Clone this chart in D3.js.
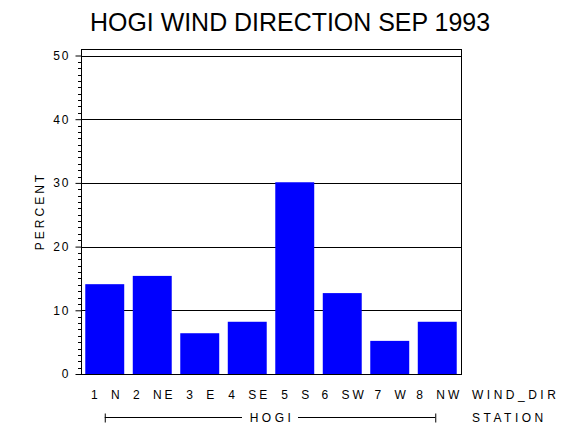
<!DOCTYPE html>
<html>
<head>
<meta charset="utf-8">
<script src="https://cdn.jsdelivr.net/npm/d3@7"></script>
<style>
  body { margin: 0; background: #fff; }
  text { font-family: "Liberation Sans", Arial, sans-serif; fill: #000; }
</style>
</head>
<body>
<svg id="chart" width="570" height="430"></svg>
<script>
const categories = ['1 N', '2 NE', '3 E', '4 SE', '5 S', '6 SW', '7 W', '8 NW']
const percent = [14.1, 15.4, 6.4, 8.2, 30.1, 12.7, 5.2, 8.2]
const yTicks = [0, 10, 20, 30, 40, 50]
const stationLabel = 'HOGI'

const svg = d3.select('#chart')
const plotL = 81, plotR = 461, plotT = 49, plotB = 374

const x = d3.scaleBand()
  .domain(categories)
  .range([plotL, plotR])
  .paddingInner(0.18)
  .paddingOuter(0.09)

const y = d3.scaleLinear()
  .domain([0, 50])
  .range([plotB, 55.5])

// title
svg.append('text')
  .attr('x', 90).attr('y', 31)
  .attr('textLength', 400).attr('lengthAdjust', 'spacingAndGlyphs')
  .style('font-size', '25px')
  .text('HOGI WIND DIRECTION SEP 1993')

// frame
svg.append('rect')
  .attr('x', plotL + 0.5).attr('y', plotT + 0.5)
  .attr('width', plotR - plotL).attr('height', plotB - plotT)
  .style('fill', 'none').style('stroke', '#000').style('stroke-width', 1)

// grid lines
svg.append('g').selectAll('line')
  .data(yTicks.filter(d => d > 0))
  .enter().append('line')
    .attr('x1', plotL).attr('x2', plotR)
    .attr('y1', d => Math.round(y(d)) + 0.5).attr('y2', d => Math.round(y(d)) + 0.5)
    .style('stroke', '#000').style('stroke-width', 1.2)

// bars
svg.append('g').selectAll('rect')
  .data(percent)
  .enter().append('rect')
    .attr('x', (d, i) => x(categories[i]))
    .attr('y', d => y(d))
    .attr('width', x.bandwidth())
    .attr('height', d => y(0) - y(d))
    .style('fill', '#0000ff')

// y axis
const yAxis = d3.axisLeft(y)
  .tickValues(yTicks)
  .tickSize(6)
  .tickPadding(5)
  .tickFormat(d3.format('d'))
const gy = svg.append('g')
  .attr('transform', 'translate(' + (plotL + 0.5) + ',0)')
  .call(yAxis)
gy.select('.domain').remove()
gy.selectAll('line').style('stroke', '#000')
gy.selectAll('text')
  .style('font-size', '12px')
  .style('letter-spacing', '2px')
  .style('font-family', '"Liberation Sans", Arial, sans-serif')

// minor ticks
svg.append('g').selectAll('line')
  .data(d3.range(0, 51).filter(d => d % 10 !== 0))
  .enter().append('line')
    .attr('x1', plotL - 3).attr('x2', plotL)
    .attr('y1', d => Math.round(y(d)) + 0.5).attr('y2', d => Math.round(y(d)) + 0.5)
    .style('stroke', '#000')

// y label
svg.append('text')
  .attr('transform', 'translate(44,211) rotate(-90)')
  .attr('text-anchor', 'middle')
  .style('font-size', '12px')
  .style('letter-spacing', '3px')
  .text('PERCENT')

// category labels
svg.append('g').selectAll('text')
  .data(categories)
  .enter().append('text')
    .attr('x', d => x(d) + x.bandwidth() / 2 + 2)
    .attr('y', 399)
    .attr('text-anchor', 'middle')
    .style('font-size', '12px')
    .style('letter-spacing', '3px')
    .style('word-spacing', '4px')
    .text(d => d)

svg.append('text')
  .attr('x', 472).attr('y', 399)
  .style('font-size', '12px').style('letter-spacing', '3.5px')
  .text('WIND_DIR')

// station bracket
const bx1 = x(categories[0]) + x.bandwidth() / 2
const bx2 = x(categories[categories.length - 1]) + x.bandwidth() / 2 - 2
const by = 417.5
const mid = (bx1 + bx2) / 2
const br = svg.append('g').style('stroke', '#000').style('stroke-width', 1)
br.append('line').attr('x1', bx1).attr('x2', mid - 28).attr('y1', by).attr('y2', by)
br.append('line').attr('x1', mid + 28).attr('x2', bx2).attr('y1', by).attr('y2', by)
br.append('line').attr('x1', bx1 + 0.5).attr('x2', bx1 + 0.5).attr('y1', by - 4).attr('y2', by + 5)
br.append('line').attr('x1', bx2 + 0.5).attr('x2', bx2 + 0.5).attr('y1', by - 4).attr('y2', by + 5)

svg.append('text')
  .attr('x', mid + 2).attr('y', 422)
  .attr('text-anchor', 'middle')
  .style('font-size', '12px').style('letter-spacing', '3.5px')
  .text(stationLabel)

svg.append('text')
  .attr('x', 472).attr('y', 422)
  .style('font-size', '12px').style('letter-spacing', '3.5px')
  .text('STATION')
</script>
</body>
</html>
